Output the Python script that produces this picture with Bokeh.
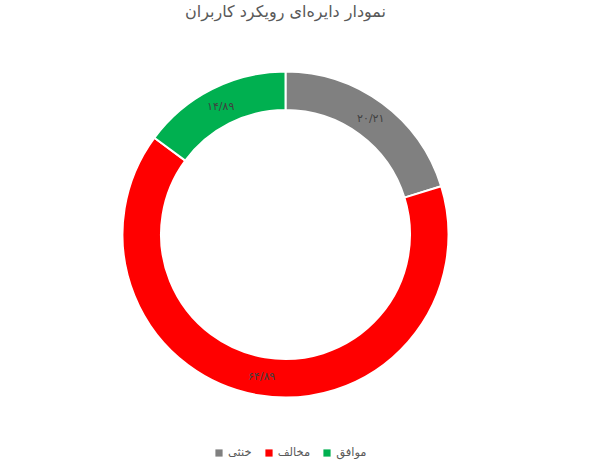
import math

from bokeh.core.properties import value
from bokeh.embed import file_html
from bokeh.models import ColumnDataSource, Label, Legend, LegendItem, Range1d
from bokeh.plotting import figure
from bokeh.resources import INLINE

# data
title = "نمودار دایره‌ای رویکرد کاربران"
categories = ["خنثی", "مخالف", "موافق"]
shares = [20.21, 64.89, 14.89]
colors = ["#808080", "#FF0000", "#00B050"]

FONT = "DejaVu Sans"
W, H = 579, 462
cx, cy = 285, 228          # centre of the ring (data units = px, y from bottom)
r_out, r_in = 163, 124.5

# persian digits, "/" as decimal mark
fa = str.maketrans("0123456789.", "۰۱۲۳۴۵۶۷۸۹/")
labels = [f"{v:.2f}".translate(fa) for v in shares]

# clockwise from 12 o'clock
total = sum(shares)
start_ang, end_ang, mid_ang = [], [], []
acc = 0.0
for v in shares:
    a0 = math.pi / 2 - 2 * math.pi * acc / total
    acc += v
    a1 = math.pi / 2 - 2 * math.pi * acc / total
    start_ang.append(a0)
    end_ang.append(a1)
    mid_ang.append((a0 + a1) / 2)

r_lab = (r_in + r_out) / 2
source = ColumnDataSource(dict(
    cat=categories, share=shares, color=colors, label=labels,
    start=start_ang, end=end_ang,
    lx=[cx + r_lab * math.cos(a) for a in mid_ang],
    ly=[cy + r_lab * math.sin(a) for a in mid_ang],
))

p = figure(width=W, height=H, output_backend="svg", toolbar_location=None,
           x_range=Range1d(0, W), y_range=Range1d(0, H), min_border=0)
p.axis.visible = False
p.grid.visible = False
p.outline_line_color = None

p.add_layout(Label(x=285, y=H - 11, x_units="screen", y_units="screen", text=title,
                   text_align="center", text_baseline="middle",
                   text_font=FONT, text_font_size="16px", text_color="#595959"))

p.annular_wedge(x=cx, y=cy, inner_radius=r_in, outer_radius=r_out,
                inner_radius_units="screen", outer_radius_units="screen",
                start_angle="start", end_angle="end", direction="clock",
                fill_color="color", line_color="white", line_width=2,
                source=source)

p.text(x="lx", y="ly", text="label", source=source,
       text_font=value(FONT), text_font_size="11px", text_color="#404040",
       text_align="center", text_baseline="middle")

# zero-size swatch proxies, only used by the legend
sw = p.rect(x="lx", y="ly", width=0, height=0, source=source,
            fill_color="color", line_color=None)
items = [LegendItem(label=cat, renderers=[sw], index=i) for i, cat in enumerate(categories)]

legend = Legend(items=items, orientation="horizontal", location=(214, 1),
                glyph_width=9, glyph_height=9, label_standoff=5, spacing=12,
                label_height=18, label_text_font=FONT, label_text_font_size="11.5px",
                label_text_color="#595959", padding=0, margin=0,
                border_line_color=None, background_fill_alpha=0)
p.add_layout(legend, "center")

open("out.html", "w").write(file_html(p, INLINE))
